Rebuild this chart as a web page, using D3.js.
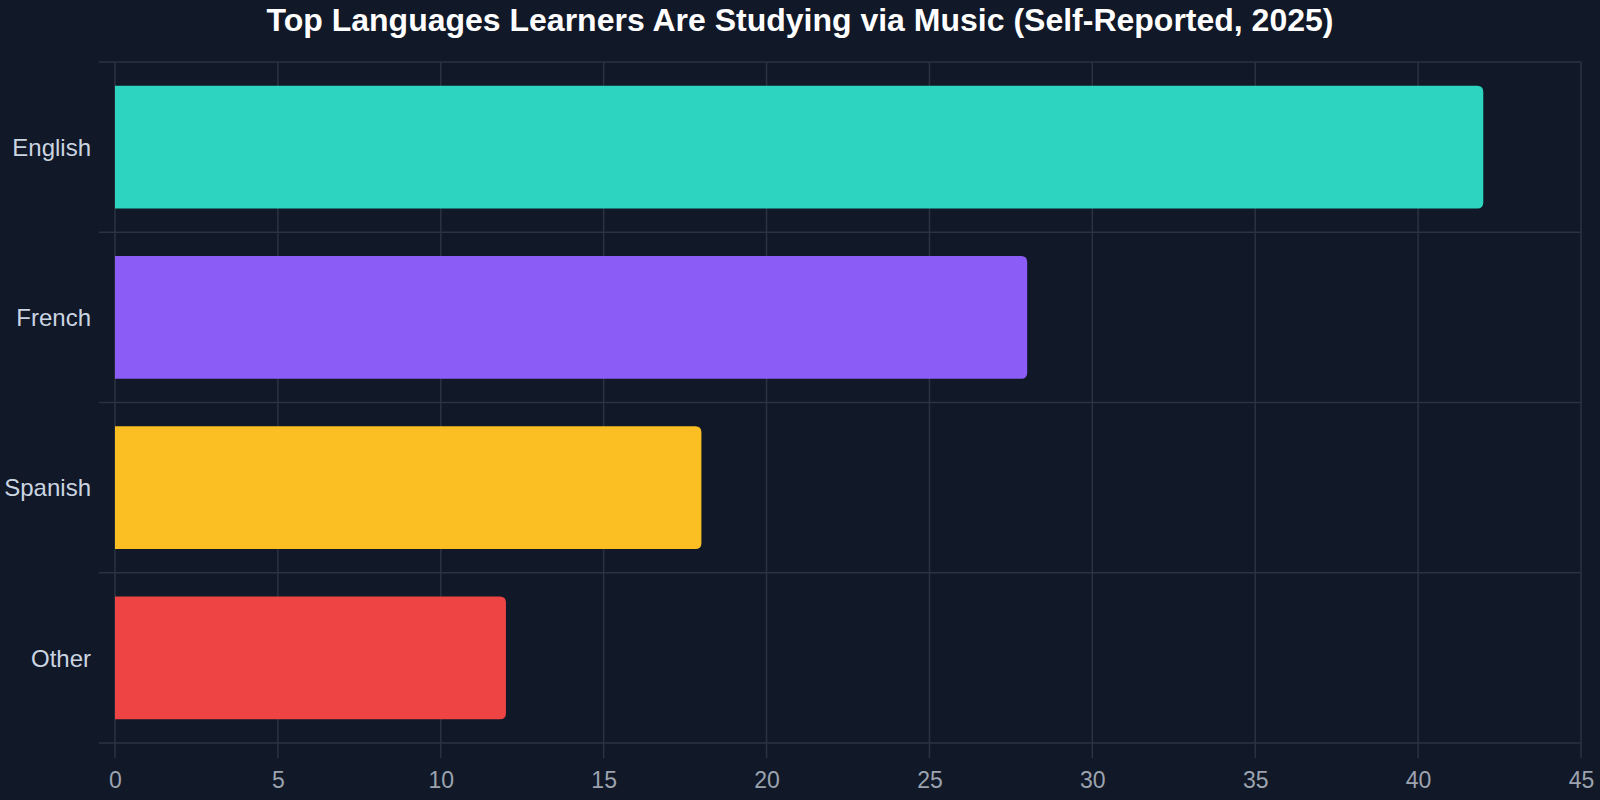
<!DOCTYPE html>
<html>
<head>
<meta charset="utf-8">
<script src="https://cdn.jsdelivr.net/npm/d3@7"></script>
<style>
  html, body { margin: 0; padding: 0; background: #111827; }
  svg { display: block; font-family: "Liberation Sans", Arial, sans-serif; }
</style>
</head>
<body>
<svg width="1600" height="800"></svg>
<script>
// data
var languages = ["English", "French", "Spanish", "Other"]
var learners = [42, 28, 18, 12]
var barColors = ["#2dd4bf", "#8b5cf6", "#fbbf24", "#ef4444"]
var xTicks = [0, 5, 10, 15, 20, 25, 30, 35, 40, 45]

var width = 1600
var height = 800
var margin = {top: 62, right: 19, bottom: 57, left: 115}
var gridColor = "#2b3241"

var svg = d3.select("svg")

svg.append("rect").attr("width", width).attr("height", height).attr("fill", "#111827")

var x = d3.scaleLinear().domain([0, 45]).range([margin.left, width - margin.right])
var y = d3.scaleBand().domain(languages).range([margin.top, height - margin.bottom]).padding(0)

// vertical grid lines (extend below the axis as ticks)
svg.append("g")
    .selectAll("line")
    .data(xTicks)
    .enter().append("line")
    .attr("x1", function(d) { return x(d) })
    .attr("x2", function(d) { return x(d) })
    .attr("y1", margin.top)
    .attr("y2", height - margin.bottom + 15)
    .attr("stroke", gridColor)
    .attr("stroke-width", 1.5)

// horizontal grid lines at the category boundaries
var bounds = languages.map(function(d) { return y(d) })
bounds.push(y(languages[languages.length - 1]) + y.bandwidth())
svg.append("g")
    .selectAll("line")
    .data(bounds)
    .enter().append("line")
    .attr("x1", margin.left - 16)
    .attr("x2", x(45))
    .attr("y1", function(d) { return d })
    .attr("y2", function(d) { return d })
    .attr("stroke", gridColor)
    .attr("stroke-width", 1.5)

// bars: 0.8 * 0.9 of each band, rounded at the right end only
var r = 6
var barH = y.bandwidth() * 0.72
function barPath(d, i) {
    var x0 = x(0), x1 = x(learners[i])
    var y0 = y(d) + (y.bandwidth() - barH) / 2, y1 = y0 + barH
    return "M" + x0 + "," + y0 +
        "H" + (x1 - r) +
        "Q" + x1 + "," + y0 + " " + x1 + "," + (y0 + r) +
        "V" + (y1 - r) +
        "Q" + x1 + "," + y1 + " " + (x1 - r) + "," + y1 +
        "H" + x0 + "Z"
}
svg.append("g")
    .selectAll("path")
    .data(languages)
    .enter().append("path")
    .attr("d", barPath)
    .attr("fill", function(d, i) { return barColors[i] })

// x axis labels
var xAxis = d3.axisBottom(x).tickValues(xTicks).tickSize(0).tickPadding(0)
var gx = svg.append("g")
    .attr("transform", "translate(0," + (height - margin.bottom) + ")")
    .call(xAxis)
gx.select(".domain").remove()
gx.selectAll("text")
    .attr("y", 45)
    .attr("dy", 0)
    .attr("fill", "#9ca3af")
    .style("font-size", "23px")
    .style("font-family", "'Liberation Sans', Arial, sans-serif")

// y axis labels
var yAxis = d3.axisLeft(y).tickSize(0).tickPadding(24)
var gy = svg.append("g")
    .attr("transform", "translate(" + margin.left + ",1)")
    .call(yAxis)
gy.select(".domain").remove()
gy.selectAll("text")
    .attr("fill", "#cbd5e1")
    .style("font-size", "24px")
    .style("font-family", "'Liberation Sans', Arial, sans-serif")

// title
svg.append("text")
    .attr("x", width / 2)
    .attr("y", 31)
    .attr("text-anchor", "middle")
    .attr("fill", "#ffffff")
    .style("font-size", "32px")
    .style("font-weight", "bold")
    .text("Top Languages Learners Are Studying via Music (Self-Reported, 2025)")
</script>
</body>
</html>
